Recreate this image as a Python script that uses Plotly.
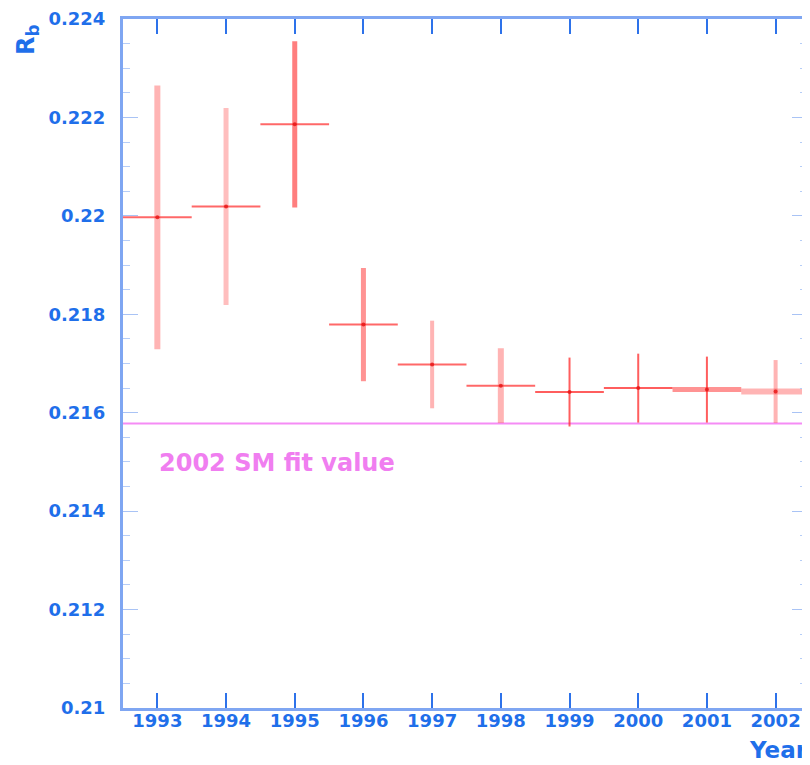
import plotly.graph_objects as go

# ---- data ----
years = [1993, 1994, 1995, 1996, 1997, 1998, 1999, 2000, 2001, 2002]
rb_values = [0.21997, 0.22019, 0.22186, 0.21779, 0.21698, 0.21655, 0.21642, 0.21650, 0.21647, 0.21643]
rb_errors = [0.00268, 0.00200, 0.00169, 0.00115, 0.00089, 0.00076, 0.00070, 0.00070, 0.00067, 0.00064]
year_halfwidth = [0.5] * len(years)
sm_fit = 0.21578
sm_label = "2002 SM fit value"
y_tickvals = [0.21, 0.212, 0.214, 0.216, 0.218, 0.22, 0.222, 0.224]
y_ticktext = ["0.21", "0.212", "0.214", "0.216", "0.218", "0.22", "0.222", "0.224"]
x_ticktext = [str(y) for y in years]
x_right_visible = 2002.457  # the frame is cut just before the right edge of 2002's bin

# ---- per-point styles (rendering appearance) ----
v_width = [6, 5, 5, 5, 4, 6, 2, 2, 2, 4]
v_alpha = [0.35, 0.3, 0.6, 0.5, 0.35, 0.35, 0.75, 0.75, 0.75, 0.35]
h_width = [2, 2, 2, 2, 2, 2, 2, 2, 5, 6]
h_alpha = [0.7, 0.7, 0.7, 0.7, 0.7, 0.7, 0.75, 0.75, 0.5, 0.35]

BLUE = "#1f6fea"
AXIS = "#7fa6f2"

fig = go.Figure()

for i in range(len(years)):
    fig.add_trace(go.Scatter(
        x=[years[i]], y=[rb_values[i]],
        mode="markers",
        marker=dict(size=4, color="rgba(230,20,20,0.8)"),
        error_y=dict(type="data", array=[rb_errors[i]], width=0,
                     thickness=v_width[i], color=f"rgba(255,40,40,{v_alpha[i]})"),
        error_x=dict(type="data", array=[year_halfwidth[i]], width=0,
                     thickness=h_width[i], color=f"rgba(255,40,40,{h_alpha[i]})"),
        showlegend=False,
        hoverinfo="x+y",
        cliponaxis=False,
    ))

fig.add_hline(y=sm_fit, line=dict(color="#f58cf5", width=2), layer="below")

fig.add_annotation(
    x=years[0], y=0.21498, xref="x", yref="y",
    text=sm_label, showarrow=False, xanchor="left", yanchor="middle",
    font=dict(family="DejaVu Sans", size=24, color="#f07ef0", weight="bold"),
)

# y-axis title R_b, rotated, at top-left
fig.add_annotation(
    x=-96 / 687, y=1.0, xref="paper", yref="paper", yshift=-3,
    text="R<sub>b</sub>", showarrow=False, textangle=-90,
    xanchor="center", yanchor="top",
    font=dict(family="DejaVu Sans", size=24, color=BLUE, weight="bold"),
)

# x-axis title "Year" at bottom right
fig.add_annotation(
    x=1.0, y=-0.042, xref="paper", yref="paper", yshift=2,
    text="Year", showarrow=False, xanchor="left", yanchor="top", xshift=-60,
    font=dict(family="DejaVu Sans", size=23, color=BLUE, weight="bold"),
)

tickfont = dict(family="DejaVu Sans", size=18, color=BLUE, weight="bold")

fig.update_layout(
    width=802, height=757,
    margin=dict(l=115, r=0, t=9, b=57),
    paper_bgcolor="white", plot_bgcolor="white",
    xaxis=dict(
        range=[years[0] - 0.5, x_right_visible],
        tickvals=years, ticktext=x_ticktext,
        ticks="inside", ticklen=15, tickwidth=2, tickcolor="#2d72ea",
        showline=True, linecolor=AXIS, linewidth=3, mirror="ticks",
        showgrid=False, zeroline=False,
        tickfont=tickfont, ticklabelstandoff=-6,
    ),
    yaxis=dict(
        range=[0.21, 0.224],
        tickvals=y_tickvals, ticktext=y_ticktext,
        ticks="inside", ticklen=15, tickwidth=1, tickcolor="#a9c3f5",
        minor=dict(tickvals=[0.21 + 0.0005 * k for k in range(29)],
                   ticks="inside", ticklen=7, tickwidth=1, tickcolor="#b6cdf7"),
        showline=True, linecolor=AXIS, linewidth=3, mirror="ticks",
        showgrid=False, zeroline=False,
        tickfont=tickfont, ticklabelstandoff=11,
        ticklabeloverflow="allow",
    ),
)

fig.write_html("out.html")
